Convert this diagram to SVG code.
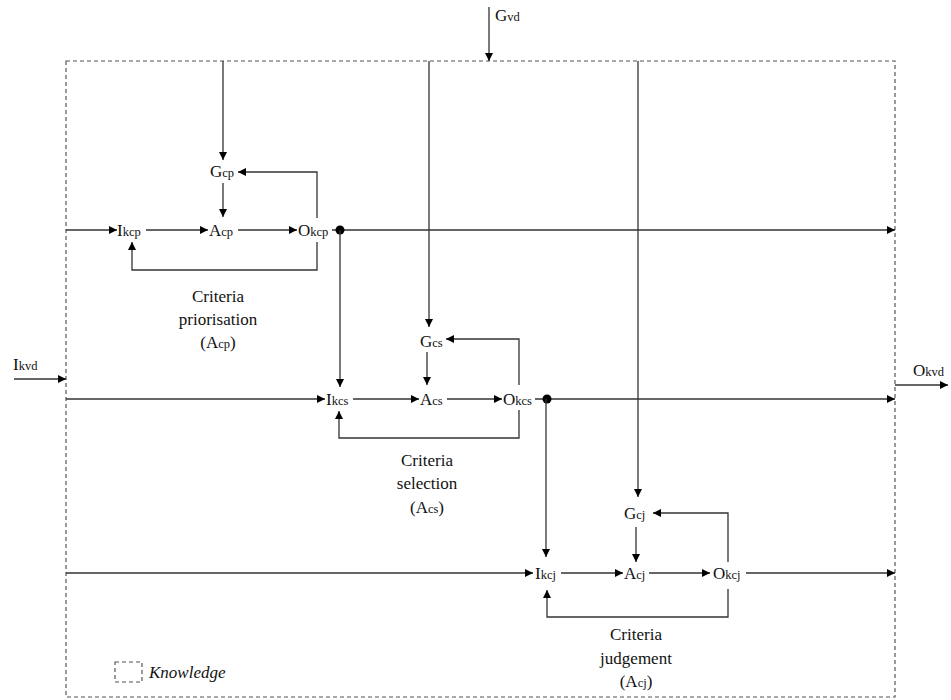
<svg xmlns="http://www.w3.org/2000/svg" width="951" height="700" viewBox="0 0 951 700">
<style>
.s{font-size:12.5px}
.c{text-anchor:middle}
.ln{fill:none;stroke:#333;stroke-width:1.3}
.ar{marker-end:url(#ah)}
.bd{fill:none;stroke:#555;stroke-width:1.2;stroke-dasharray:4,3}
</style>
<defs>
<marker id="ah" viewBox="0 0 10 10" refX="10" refY="5" markerWidth="9" markerHeight="8" markerUnits="userSpaceOnUse" orient="auto"><path d="M0,0 L10,5 L0,10 z" fill="#000"/></marker>
</defs>
<rect id="boundary" class="bd" x="66" y="61" width="829" height="636"/>
<g id="connectors">
<path class="ln ar" d="M489,7 V61"/>
<path class="ln ar" d="M223,61 V160"/>
<path class="ln ar" d="M429,61 V327"/>
<path class="ln ar" d="M638,61 V497"/>
<path class="ln ar" d="M14,379 H66"/>
<path class="ln ar" d="M895,385 H948"/>
<path class="ln ar" d="M66,230 H117"/>
<path class="ln ar" d="M146,230 H208"/>
<path class="ln ar" d="M238,230 H297"/>
<path class="ln ar" d="M332,230 H895"/>
<path class="ln ar" d="M223,183 V217"/>
<path class="ln ar" d="M317,218 V172 H238"/>
<path class="ln ar" d="M317,242 V270 H132 V242"/>
<circle cx="340" cy="230" r="4.5" fill="#000"/>
<path class="ln ar" d="M340,230 V387"/>
<path class="ln ar" d="M66,399 H325"/>
<path class="ln ar" d="M353,399 H419"/>
<path class="ln ar" d="M447,399 H502"/>
<path class="ln ar" d="M535,399 H895"/>
<path class="ln ar" d="M427,352 V385"/>
<path class="ln ar" d="M519,385 V339 H446"/>
<path class="ln ar" d="M519,410 V438 H339 V411"/>
<circle cx="547" cy="399" r="4.5" fill="#000"/>
<path class="ln ar" d="M546,399 V557"/>
<path class="ln ar" d="M66,573 H533"/>
<path class="ln ar" d="M561,573 H623"/>
<path class="ln ar" d="M649,573 H710"/>
<path class="ln ar" d="M746,573 H895"/>
<path class="ln ar" d="M636,527 V562"/>
<path class="ln ar" d="M728,562 V513 H653"/>
<path class="ln ar" d="M728,589 V617 H547 V590"/>
</g>
<g font-family="Liberation Serif, Times New Roman, DejaVu Serif, serif" font-size="17" fill="#111">
<g id="Gvd"><text x="495" y="21">G<tspan class="s">vd</tspan></text></g>
<g id="Ikvd"><text x="13" y="370">I<tspan class="s">kvd</tspan></text></g>
<g id="Okvd"><text x="913" y="376">O<tspan class="s">kvd</tspan></text></g>
<g id="Ikcp"><text x="117" y="236">I<tspan class="s">kcp</tspan></text></g>
<g id="Acp"><text x="209" y="236">A<tspan class="s">cp</tspan></text></g>
<g id="Okcp"><text x="298" y="236">O<tspan class="s">kcp</tspan></text></g>
<g id="Gcp"><text x="210" y="177">G<tspan class="s">cp</tspan></text></g>
<g id="Ikcs"><text x="326" y="405">I<tspan class="s">kcs</tspan></text></g>
<g id="Acs"><text x="420" y="405">A<tspan class="s">cs</tspan></text></g>
<g id="Okcs"><text x="503" y="405">O<tspan class="s">kcs</tspan></text></g>
<g id="Gcs"><text x="420" y="347">G<tspan class="s">cs</tspan></text></g>
<g id="Ikcj"><text x="535" y="579">I<tspan class="s">kcj</tspan></text></g>
<g id="Acj"><text x="624" y="579">A<tspan class="s">cj</tspan></text></g>
<g id="Okcj"><text x="713" y="579">O<tspan class="s">kcj</tspan></text></g>
<g id="Gcj"><text x="624" y="519">G<tspan class="s">cj</tspan></text></g>
<g id="label-cp"><text class="c" x="218" y="302">Criteria</text><text class="c" x="218" y="325">priorisation</text><text class="c" x="218" y="348">(A<tspan class="s">cp</tspan>)</text></g>
<g id="label-cs"><text class="c" x="427" y="466">Criteria</text><text class="c" x="427" y="489">selection</text><text class="c" x="427" y="513">(A<tspan class="s">cs</tspan>)</text></g>
<g id="label-cj"><text class="c" x="636" y="640">Criteria</text><text class="c" x="636" y="664">judgement</text><text class="c" x="636" y="687">(A<tspan class="s">cj</tspan>)</text></g>
<g id="legend"><rect class="bd" x="115" y="662" width="27" height="20"/><text x="149" y="678" font-style="italic">Knowledge</text></g>
</g>
</svg>
